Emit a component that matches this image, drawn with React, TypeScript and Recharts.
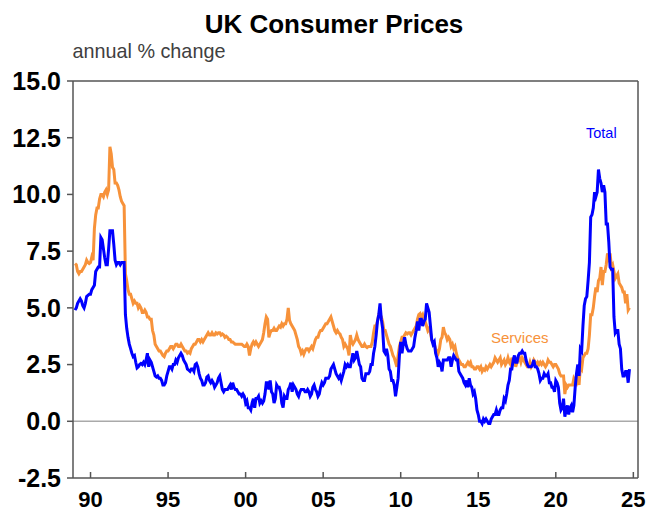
import React from "react";
import { LineChart, Line, XAxis, YAxis, ReferenceLine } from "recharts";

const startYear = 1989;

// UK CPI, total, annual % change (monthly, Jan..Dec per year)
const totalByYear: number[][] = [
  [4.9, 5.0, 5.2, 5.3, 5.4, 5.3, 5.1, 5.0, 5.2, 5.5, 5.55, 5.6], // 1989
  [5.6, 5.8, 5.9, 6.0, 6.6, 6.7, 6.8, 6.8, 8.1, 8.0, 7.6, 7.2], // 1990
  [6.9, 6.9, 7.6, 8.4, 8.4, 8.4, 7.8, 7.1, 6.9, 7.0, 7.0, 6.9], // 1991
  [7.0, 7.0, 7.0, 4.7, 4.1, 3.7, 3.4, 3.2, 3.0, 2.85, 2.9, 2.6], // 1992
  [2.35, 2.4, 2.5, 2.55, 2.5, 2.6, 2.5, 2.7, 3.0, 2.4, 2.7, 2.6], // 1993
  [2.4, 2.2, 2.0, 1.95, 2.0, 1.9, 1.9, 1.8, 1.6, 1.6, 1.7, 2.0], // 1994
  [2.2, 2.4, 2.4, 2.3, 2.5, 2.5, 2.7, 2.6, 2.8, 2.9, 3.0, 2.9], // 1995
  [2.7, 2.6, 2.5, 2.3, 2.25, 2.2, 2.3, 2.3, 2.2, 2.5, 2.55, 2.4], // 1996
  [2.1, 1.9, 1.8, 1.6, 1.6, 1.7, 1.95, 2.0, 1.8, 1.7, 1.8, 1.7], // 1997
  [1.5, 1.6, 1.7, 1.9, 2.0, 1.7, 1.4, 1.3, 1.4, 1.4, 1.4, 1.5], // 1998
  [1.6, 1.4, 1.7, 1.5, 1.4, 1.4, 1.3, 1.2, 1.2, 1.1, 1.2, 1.1], // 1999
  [0.8, 0.9, 0.6, 0.6, 0.5, 0.8, 1.0, 0.6, 1.0, 1.0, 1.1, 0.8], // 2000
  [0.9, 0.8, 0.9, 1.2, 1.7, 1.7, 1.4, 1.8, 1.3, 1.2, 0.8, 1.0], // 2001
  [1.6, 1.5, 1.5, 1.3, 0.8, 0.6, 1.1, 1.0, 1.0, 1.4, 1.5, 1.7], // 2002
  [1.3, 1.6, 1.5, 1.4, 1.2, 1.1, 1.3, 1.4, 1.4, 1.4, 1.3, 1.3], // 2003
  [1.4, 1.3, 1.1, 1.2, 1.5, 1.6, 1.4, 1.3, 1.1, 1.2, 1.5, 1.7], // 2004
  [1.6, 1.7, 1.9, 1.9, 1.9, 2.0, 2.3, 2.4, 2.5, 2.3, 2.1, 2.0], // 2005
  [1.9, 2.0, 1.8, 2.0, 2.2, 2.5, 2.4, 2.5, 2.4, 2.4, 2.7, 3.0], // 2006
  [2.7, 2.8, 3.1, 2.8, 2.5, 2.4, 1.9, 1.8, 1.8, 2.1, 2.1, 2.1], // 2007
  [2.2, 2.5, 2.5, 3.0, 3.3, 3.8, 4.4, 4.7, 5.2, 4.5, 4.1, 3.1], // 2008
  [3.0, 3.2, 2.9, 2.3, 2.2, 1.8, 1.8, 1.6, 1.1, 1.5, 1.9, 2.9], // 2009
  [3.5, 3.0, 3.4, 3.7, 3.4, 3.2, 3.1, 3.1, 3.1, 3.2, 3.3, 3.7], // 2010
  [4.0, 4.4, 4.0, 4.5, 4.5, 4.2, 4.4, 4.5, 5.2, 5.0, 4.8, 4.2], // 2011
  [3.6, 3.4, 3.5, 3.0, 2.8, 2.4, 2.6, 2.5, 2.2, 2.7, 2.7, 2.7], // 2012
  [2.7, 2.8, 2.8, 2.4, 2.7, 2.9, 2.8, 2.7, 2.7, 2.2, 2.1, 2.0], // 2013
  [1.9, 1.7, 1.6, 1.8, 1.5, 1.9, 1.6, 1.5, 1.2, 1.3, 1.0, 0.5], // 2014
  [0.3, 0.0, 0.0, -0.1, 0.1, 0.0, 0.1, 0.0, -0.1, -0.1, 0.1, 0.2], // 2015
  [0.3, 0.3, 0.5, 0.3, 0.3, 0.5, 0.6, 0.6, 1.0, 0.9, 1.2, 1.6], // 2016
  [1.8, 2.3, 2.3, 2.7, 2.9, 2.6, 2.6, 2.9, 3.0, 3.0, 3.1, 3.0], // 2017
  [3.0, 2.7, 2.5, 2.4, 2.4, 2.4, 2.5, 2.7, 2.4, 2.4, 2.3, 2.1], // 2018
  [1.8, 1.9, 1.9, 2.1, 2.0, 2.0, 2.1, 1.7, 1.7, 1.5, 1.5, 1.3], // 2019
  [1.8, 1.7, 1.5, 0.8, 0.5, 0.6, 1.0, 0.2, 0.5, 0.7, 0.3, 0.6], // 2020
  [0.7, 0.4, 0.7, 1.5, 2.1, 2.5, 2.0, 3.2, 3.1, 4.2, 5.1, 5.4], // 2021
  [5.5, 6.2, 7.0, 9.0, 9.1, 9.4, 10.1, 9.9, 10.1, 11.1, 10.7, 10.5], // 2022
  [10.1, 10.4, 10.1, 8.7, 8.7, 7.9, 6.8, 6.7, 6.7, 4.6, 3.9, 4.0], // 2023
  [4.0, 3.4, 3.2, 2.3, 2.0, 2.0, 2.2, 2.2, 1.7, 2.3], // 2024
];

// UK CPI, services, annual % change
const servicesByYear: number[][] = [
  [6.95, 6.9, 6.6, 6.5, 6.6, 6.6, 6.7, 6.8, 6.9, 7.1, 7.0, 6.95], // 1989
  [7.0, 7.25, 7.1, 8.5, 9.1, 9.4, 9.4, 9.8, 10.0, 10.0, 9.9, 10.1], // 1990
  [10.2, 10.0, 10.2, 12.1, 11.8, 11.2, 11.1, 10.5, 10.5, 10.4, 10.2, 9.9], // 1991
  [9.7, 9.6, 9.5, 6.5, 6.2, 5.8, 5.6, 5.6, 5.4, 5.2, 5.3, 5.2], // 1992
  [5.2, 5.0, 5.1, 5.0, 4.8, 4.8, 4.9, 4.8, 4.6, 4.6, 4.5, 4.5], // 1993
  [4.0, 3.8, 3.4, 3.3, 3.2, 3.1, 3.1, 3.0, 2.9, 2.85, 3.0, 3.1], // 1994
  [3.1, 3.2, 3.3, 3.3, 3.2, 3.3, 3.4, 3.4, 3.3, 3.3, 3.4, 3.3], // 1995
  [3.2, 3.1, 3.1, 3.0, 3.05, 3.0, 3.2, 3.3, 3.4, 3.4, 3.5, 3.6], // 1996
  [3.6, 3.5, 3.6, 3.5, 3.6, 3.7, 3.8, 3.9, 3.8, 3.8, 3.9, 3.8], // 1997
  [3.8, 3.9, 3.85, 3.9, 3.9, 3.8, 3.85, 3.8, 3.7, 3.75, 3.7, 3.6], // 1998
  [3.6, 3.5, 3.5, 3.45, 3.4, 3.4, 3.4, 3.4, 3.4, 3.4, 3.35, 3.3], // 1999
  [3.3, 3.4, 3.3, 2.9, 3.2, 3.4, 3.5, 3.4, 3.5, 3.4, 3.3, 3.4], // 2000
  [3.5, 3.6, 3.9, 4.3, 4.6, 4.5, 3.7, 3.9, 4.0, 4.0, 4.1, 4.0], // 2001
  [4.0, 4.1, 4.2, 4.15, 4.3, 4.2, 4.3, 4.3, 4.5, 5.0, 4.45, 4.3], // 2002
  [4.2, 4.1, 4.0, 3.8, 3.6, 3.3, 3.2, 3.0, 3.1, 2.95, 3.1, 3.2], // 2003
  [3.2, 3.1, 3.2, 3.3, 3.2, 3.4, 3.6, 3.7, 3.7, 3.9, 4.0, 4.0], // 2004
  [4.1, 4.2, 4.3, 4.3, 4.4, 4.5, 4.6, 4.4, 4.2, 4.0, 3.9, 4.0], // 2005
  [3.9, 3.85, 3.7, 3.6, 3.3, 3.4, 3.3, 3.2, 2.9, 3.8, 3.5, 3.4], // 2006
  [3.5, 3.6, 3.8, 3.6, 3.5, 3.4, 3.3, 3.3, 3.4, 3.3, 3.25, 3.3], // 2007
  [3.3, 3.3, 3.5, 3.9, 4.2, 4.2, 4.4, 4.7, 4.7, 4.6, 4.4, 4.0], // 2008
  [4.0, 3.8, 3.6, 3.4, 3.3, 3.1, 2.9, 2.8, 2.6, 2.4, 2.9, 3.3], // 2009
  [3.5, 3.7, 3.7, 3.8, 3.9, 3.85, 3.9, 3.9, 3.8, 3.9, 4.0, 4.1], // 2010
  [4.2, 4.5, 4.7, 4.75, 4.6, 4.7, 4.5, 4.4, 4.2, 4.0, 4.1, 3.9], // 2011
  [3.6, 3.5, 3.4, 3.2, 3.1, 3.0, 3.2, 3.6, 3.7, 4.15, 3.9, 3.8], // 2012
  [3.6, 3.7, 3.6, 3.3, 3.4, 3.2, 3.3, 3.0, 2.8, 2.7, 2.6, 2.5], // 2013
  [2.5, 2.4, 2.4, 2.5, 2.6, 2.5, 2.6, 2.4, 2.4, 2.3, 2.3, 2.4], // 2014
  [2.4, 2.3, 2.4, 2.2, 2.3, 2.25, 2.4, 2.3, 2.4, 2.5, 2.4, 2.5], // 2015
  [2.6, 2.8, 2.7, 2.6, 2.7, 2.8, 2.5, 2.6, 2.7, 2.5, 2.6, 2.8], // 2016
  [2.6, 2.5, 2.8, 2.6, 2.7, 2.4, 2.6, 2.7, 2.8, 2.6, 2.8, 2.7], // 2017
  [2.6, 2.5, 2.4, 2.4, 2.6, 2.4, 2.5, 2.7, 2.6, 2.5, 2.6, 2.5], // 2018
  [2.6, 2.5, 2.6, 2.5, 2.4, 2.5, 2.7, 2.6, 2.6, 2.5, 2.4, 2.5], // 2019
  [2.5, 2.4, 2.3, 2.1, 2.0, 2.0, 2.0, 1.2, 1.6, 1.5, 1.6, 1.6], // 2020
  [1.6, 1.6, 1.9, 1.8, 1.7, 2.0, 1.6, 2.4, 2.3, 2.8, 2.9, 3.0], // 2021
  [3.0, 3.2, 3.8, 4.7, 4.7, 5.0, 5.5, 5.9, 5.7, 6.2, 6.3, 6.8], // 2022
  [6.0, 6.6, 6.6, 6.9, 7.4, 7.2, 7.4, 6.8, 6.9, 6.6, 6.3, 6.4], // 2023
  [6.5, 6.1, 6.0, 5.9, 5.7, 5.7, 5.2, 5.6, 4.9, 5.0], // 2024
];

const xTicks = [1990, 1995, 2000, 2005, 2010, 2015, 2020, 2025];
const xTickLabels = ["90", "95", "00", "05", "10", "15", "20", "25"];
const yTicks = [-2.5, 0, 2.5, 5, 7.5, 10, 12.5, 15];
const xDomain: [number, number] = [1988.87, 2025.3];

const data: { date: number; total: number; services: number }[] = [];
totalByYear.forEach((row, yi) => {
  row.forEach((v, m) => {
    data.push({
      date: startYear + yi + m / 12,
      total: v,
      services: servicesByYear[yi][m],
    });
  });
});

const FONT = "'Liberation Sans', Arial, Helvetica, sans-serif";
const BLUE = "#0000ff";
const ORANGE = "#f7923a";
const FRAME = "#555555";

const XTick = (props: any) => {
  const { x, y, payload } = props;
  const idx = xTicks.indexOf(payload.value);
  const axisY = y - 6;
  return (
    <g>
      <line x1={x} x2={x} y1={axisY} y2={axisY - 6} stroke={FRAME} strokeWidth={1.5} />
      <text
        x={x}
        y={axisY + 29}
        textAnchor="middle"
        fontFamily={FONT}
        fontSize={22}
        fontWeight="bold"
        fill="#000"
      >
        {idx >= 0 ? xTickLabels[idx] : ""}
      </text>
    </g>
  );
};

export default function App() {
  return (
    <div style={{ position: "absolute", left: 0, top: 0, width: 649, height: 512, background: "#fff" }}>
      <LineChart
        width={649}
        height={512}
        data={data}
        margin={{ top: 81, right: 11, left: 0, bottom: 4 }}
      >
        <XAxis
          dataKey="date"
          type="number"
          domain={xDomain}
          ticks={xTicks}
          allowDataOverflow
          height={30}
          tickSize={6}
          tickMargin={0}
          tickLine={{ stroke: "none" }}
          axisLine={{ stroke: FRAME, strokeWidth: 1.5 }}
          tick={<XTick />}
          interval={0}
        />
        <YAxis
          type="number"
          domain={[-2.5, 15]}
          ticks={yTicks}
          width={73}
          tickSize={6}
          tickMargin={6}
          interval={0}
          tickFormatter={(v: number) => v.toFixed(1)}
          tick={{ fontFamily: FONT, fontSize: 25, fontWeight: "bold", fill: "#000" }}
          tickLine={{ stroke: FRAME, strokeWidth: 1.5 }}
          axisLine={{ stroke: FRAME, strokeWidth: 1.5 }}
        />
        <ReferenceLine y={0} stroke="#aaaaaa" strokeWidth={1.5} />
        <ReferenceLine y={15} stroke={FRAME} strokeWidth={1.5} />
        <ReferenceLine x={xDomain[1]} stroke={FRAME} strokeWidth={1.5} />
        <Line
          type="linear"
          dataKey="services"
          stroke={ORANGE}
          strokeWidth={3}
          dot={false}
          isAnimationActive={false}
        />
        <Line
          type="linear"
          dataKey="total"
          stroke={BLUE}
          strokeWidth={3}
          dot={false}
          isAnimationActive={false}
        />
      </LineChart>
      <svg
        width={649}
        height={512}
        style={{ position: "absolute", left: 0, top: 0, pointerEvents: "none" }}
      >
        <text x={334} y={33} textAnchor="middle" fontFamily={FONT} fontSize={26} fontWeight="bold" fill="#000">
          UK Consumer Prices
        </text>
        <text x={72.5} y={58} fontFamily={FONT} fontSize={19.8} fill="#404040">
          annual % change
        </text>
        <text x={586} y={137.5} fontFamily={FONT} fontSize={14.5} fill={BLUE}>
          Total
        </text>
        <text x={491} y={342.5} fontFamily={FONT} fontSize={15} fill={ORANGE}>
          Services
        </text>
      </svg>
    </div>
  );
}
